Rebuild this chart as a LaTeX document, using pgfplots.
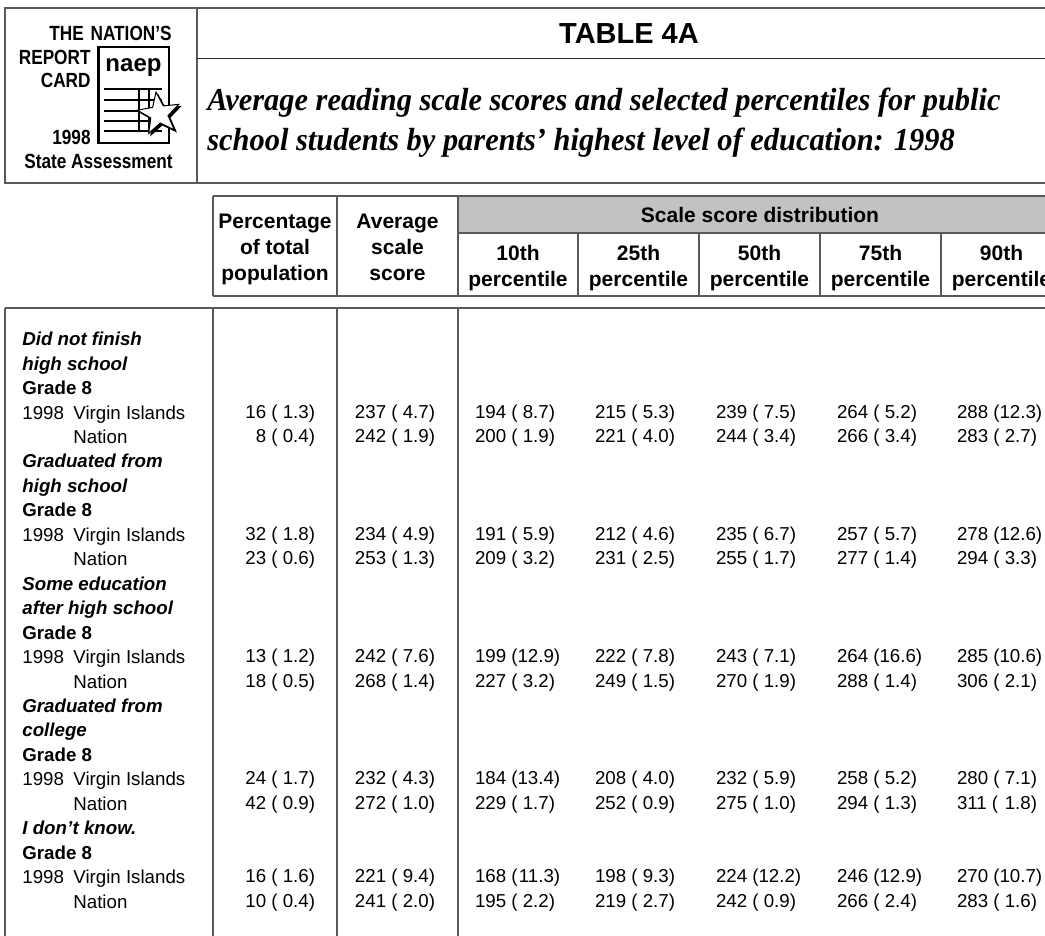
\documentclass[border=0pt]{standalone}
\usepackage{fontspec}
\setmainfont{Liberation Sans}
\newfontfamily\subfont[FakeStretch=0.95]{Liberation Serif}
\newfontfamily\condfont[FakeStretch=0.84]{Liberation Sans}
\usepackage{pgfplots}
\pgfplotsset{compat=1.18}
\usepackage{pgfplotstable}
\usetikzlibrary{shapes.geometric}
\definecolor{lc}{gray}{0.35}
\definecolor{band}{gray}{0.76}
\newcommand{\bodyfont}{\fontsize{9.35pt}{11pt}\selectfont}
\newcommand{\headfont}{\fontsize{10.5pt}{12pt}\selectfont\bfseries}

% r = row index in the body; value and standard error for each column
\pgfplotstableread{
r pct pctse avg avgse p10 p10se p25 p25se p50 p50se p75 p75se p90 p90se
3  16 1.3 237 4.7 194 8.7  215 5.3 239 7.5  264 5.2  288 12.3
4  8  0.4 242 1.9 200 1.9  221 4.0 244 3.4  266 3.4  283 2.7
8  32 1.8 234 4.9 191 5.9  212 4.6 235 6.7  257 5.7  278 12.6
9  23 0.6 253 1.3 209 3.2  231 2.5 255 1.7  277 1.4  294 3.3
13 13 1.2 242 7.6 199 12.9 222 7.8 243 7.1  264 16.6 285 10.6
14 18 0.5 268 1.4 227 3.2  249 1.5 270 1.9  288 1.4  306 2.1
18 24 1.7 232 4.3 184 13.4 208 4.0 232 5.9  258 5.2  280 7.1
19 42 0.9 272 1.0 229 1.7  252 0.9 275 1.0  294 1.3  311 1.8
22 16 1.6 221 9.4 168 11.3 198 9.3 224 12.2 246 12.9 270 10.7
23 10 0.4 241 2.0 195 2.2  219 2.7 242 0.9  266 2.4  283 1.6
}\scores

\pgfplotsset{cellnode/.style={draw=none, mark=none,
  every node near coord/.append style={inner sep=0pt, outer sep=0pt, font=\bodyfont, text=black}}}
% value followed by the opening parenthesis
\newcommand{\valplot}[3]{%
\addplot[cellnode, point meta=explicit symbolic,
  nodes near coords={\raisebox{0pt}[0pt][0pt]{\makebox[0pt][#3]{\pgfplotspointmeta\ (}}}]
  table[x expr=#2, y expr=345.7+24.45*\thisrow{r}, meta=#1] {\scores};}
% standard error and closing parenthesis, right aligned at x; only rows whose
% standard error lies in the given domain
\newcommand{\seplot}[3]{%
\addplot[cellnode, point meta=explicit, restrict expr to domain={\thisrow{#1se}}{#3},
  nodes near coords={\raisebox{0pt}[0pt][0pt]{\makebox[0pt][r]{\pgfmathprintnumber[fixed,fixed zerofill,precision=1,assume math mode=true]{\pgfplotspointmeta})}}}]
  table[x expr=#2, y expr=345.7+24.45*\thisrow{r}, meta=#1se] {\scores};}

\newcommand{\rowhd}[2]{\node[anchor=base west, inner sep=0pt, font=\bodyfont\bfseries\itshape] at (axis cs:22,#1) {#2};}
\newcommand{\rowgr}[1]{\node[anchor=base west, inner sep=0pt, font=\bodyfont\bfseries] at (axis cs:22,#1) {Grade 8};}
\newcommand{\rowvi}[1]{\node[anchor=base west, inner sep=0pt, font=\bodyfont] at (axis cs:22,#1) {1998};
  \node[anchor=base west, inner sep=0pt, font=\bodyfont] at (axis cs:73,#1) {Virgin Islands};}
\newcommand{\rowna}[1]{\node[anchor=base west, inner sep=0pt, font=\bodyfont] at (axis cs:73,#1) {Nation};}
\newcommand{\htext}[2]{\node[anchor=base, inner sep=0pt, font=\headfont] at (axis cs:#1) {#2};}
\newcommand{\vseg}[3]{\draw[lc, line width=0.8pt] (#1,#2) -- (#1,#3);}
\newcommand{\logotext}[2]{\node[anchor=base east, inner sep=0pt, font=\condfont\bfseries\fontsize{10.25pt}{12pt}\selectfont] at (axis cs:#1) {#2};}

\begin{document}
\begin{tikzpicture}
\useasboundingbox (0,0) rectangle (522.5pt,468pt);
\clip (0,0) rectangle (522.5pt,468pt);
\begin{axis}[at={(0,0)}, anchor=south west, width=522.5pt, height=468pt,
  scale only axis, xmin=0, xmax=1045, ymin=0, ymax=936, y dir=reverse,
  hide axis, clip=false]

% ---------- title block ----------
\draw[lc, line width=0.9pt] (5,8) rectangle (1075,183);
\draw[lc, line width=0.9pt] (197,8) -- (197,183);
\draw[black!85, line width=0.9pt] (197,58.5) -- (1075,58.5);

% logo
\logotext{172,40.3}{THE\,\,NATION’S}
\logotext{91,64.3}{REPORT}
\logotext{91,87.3}{CARD}
\logotext{91,144.3}{1998}
\node[anchor=base, inner sep=0pt, font=\condfont\bfseries\fontsize{10.25pt}{12pt}\selectfont] at (axis cs:98.5,168.3) {State Assessment};
\draw[black, line width=1.4pt] (98.5,47) rectangle (169,143);
\node[anchor=base, inner sep=0pt, font=\bfseries\fontsize{12pt}{12pt}\selectfont] at (axis cs:133.5,72) {naep};
\draw[black, line width=1.3pt] (104,89) -- (162,89);
\draw[black, line width=1.3pt] (104,100) -- (162,100);
\draw[black, line width=1.3pt] (104,111) -- (162,111);
\draw[black, line width=1.3pt] (104,121) -- (162,121);
\draw[black, line width=1.3pt] (104,131) -- (162,131);
\draw[black, line width=1.3pt] (139,89) -- (139,131);
\draw[black, line width=1.3pt] (149,89) -- (149,131);
\node[star, star points=5, star point ratio=2.4, fill=black,
  minimum size=23pt, inner sep=0pt, rotate=8] at (axis cs:161,116) {};
\node[star, star points=5, star point ratio=2.4, draw=black, fill=white, line width=0.5pt,
  minimum size=22pt, inner sep=0pt, rotate=8] at (axis cs:159,114) {};

% title
\node[anchor=base, inner sep=0pt, font=\fontsize{14.5pt}{16pt}\selectfont\bfseries] at (axis cs:629,43.2) {TABLE 4A};
\node[anchor=base west, inner sep=0pt, font=\subfont\bfseries\itshape\fontsize{16pt}{18pt}\selectfont] at (axis cs:207,111) {Average reading scale scores and selected percentiles for public};
\node[anchor=base west, inner sep=0pt, font=\subfont\bfseries\itshape\fontsize{16pt}{18pt}\selectfont] at (axis cs:207,151) {school students by parents’ highest level of education: 1998};

% ---------- column header ----------
\fill[band] (458,196) rectangle (1075,233);
\draw[lc, line width=0.8pt] (213,196) -- (1075,196);
\draw[lc, line width=0.8pt] (458,233) -- (1075,233);
\draw[lc, line width=0.8pt] (213,296) -- (1075,296);
\vseg{213}{196}{296}
\vseg{337}{196}{296}
\vseg{458}{196}{296}
\vseg{578}{233}{296}
\vseg{699}{233}{296}
\vseg{820}{233}{296}
\vseg{941}{233}{296}

\htext{275,228.5}{Percentage}
\htext{275,254.5}{of total}
\htext{275,280.5}{population}
\htext{397.5,228.5}{Average}
\htext{397.5,254.5}{scale}
\htext{397.5,280.5}{score}
\htext{760,222.5}{Scale score distribution}
\htext{518,260.5}{10th}
\htext{638.5,260.5}{25th}
\htext{759.5,260.5}{50th}
\htext{880.5,260.5}{75th}
\htext{1001.5,260.5}{90th}
\htext{518,286.5}{percentile}
\htext{638.5,286.5}{percentile}
\htext{759.5,286.5}{percentile}
\htext{880.5,286.5}{percentile}
\htext{1001.5,286.5}{percentile}

% ---------- body frame ----------
\draw[lc, line width=0.8pt] (5,308) -- (1075,308);
\vseg{5}{308}{945}
\vseg{213}{308}{945}
\vseg{337}{308}{945}
\vseg{458}{308}{945}

% ---------- row stubs ----------
\rowhd{345.7}{Did not finish}
\rowhd{370.15}{high school}
\rowgr{394.6}
\rowvi{419.05}
\rowna{443.5}
\rowhd{467.95}{Graduated from}
\rowhd{492.4}{high school}
\rowgr{516.85}
\rowvi{541.3}
\rowna{565.75}
\rowhd{590.2}{Some education}
\rowhd{614.65}{after high school}
\rowgr{639.1}
\rowvi{663.55}
\rowna{688.0}
\rowhd{712.45}{Graduated from}
\rowhd{736.9}{college}
\rowgr{761.35}
\rowvi{785.8}
\rowna{810.25}
\rowhd{834.7}{I don’t know.}
\rowgr{859.15}
\rowvi{883.6}
\rowna{908.05}

% ---------- values ----------
\valplot{pct}{277.6}{r}  \seplot{pct}{315}{0:100}
\valplot{avg}{397.6}{r}  \seplot{avg}{435}{0:100}
\valplot{p10}{475}{l}    \seplot{p10}{555.0}{0:9.95}   \seplot{p10}{560.2}{9.96:100}
\valplot{p25}{595}{l}    \seplot{p25}{675.0}{0:9.95}   \seplot{p25}{680.2}{9.96:100}
\valplot{p50}{716}{l}    \seplot{p50}{796.0}{0:9.95}   \seplot{p50}{801.2}{9.96:100}
\valplot{p75}{837}{l}    \seplot{p75}{917.0}{0:9.95}   \seplot{p75}{922.2}{9.96:100}
\valplot{p90}{957}{l}    \seplot{p90}{1037.0}{0:9.95}  \seplot{p90}{1042.2}{9.96:100}

\end{axis}
\end{tikzpicture}
\end{document}
